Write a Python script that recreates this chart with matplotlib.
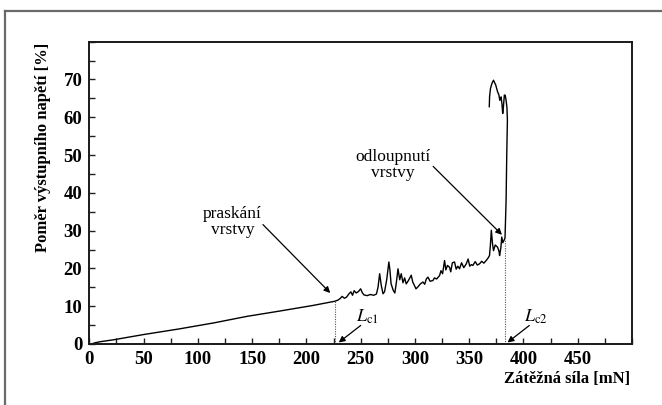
import matplotlib
matplotlib.use("Agg")
import matplotlib.pyplot as plt
from matplotlib.lines import Line2D
from matplotlib.ticker import MultipleLocator

plt.rcParams["font.family"] = ["Liberation Serif", "DejaVu Serif"]
plt.rcParams["mathtext.fontset"] = "stix"

# Scratch-test record: load [mN] vs. output voltage ratio [%]
load_mN = [
    2, 5, 10, 22, 50, 83, 115, 145, 175, 206, 226,
    229, 231, 233, 235, 237, 239, 241, 242.5, 244, 246, 248, 250, 251.5, 253,
    256, 259, 262, 264.5, 266, 267.5, 269, 270.6, 272, 274, 276, 277, 278, 280,
    281.5, 283, 284.4, 286, 287.4, 289, 290.5, 292, 294, 296.6, 298, 301, 303,
    305, 307.4, 309, 310.5, 312, 314, 316.6, 318, 320, 322.7, 324, 325.5, 327.3,
    328.5, 330, 331.9, 333, 334.5, 336.5, 338, 339.5, 341.1, 343, 345, 347.3,
    349, 350.5, 352, 353.4, 355.5, 357.5, 359.5, 361.5, 363.5, 365.7, 367.5,
    368.7, 369.5, 370.4, 371.5, 372.4, 374, 376.2, 377.5, 378, 379.2, 380, 381,
    382, 383, 384, 384.6, 385.2, 384.8, 384, 383.2, 382.4, 381.6, 380.9, 380.2,
    379.4, 378.8, 378.2, 377.3, 376.2, 374.5, 372.4, 371, 369.6, 368.8, 368.5,
]
ratio_pct = [
    0.0, 0.3, 0.6, 1.1, 2.5, 4.0, 5.6, 7.3, 8.7, 10.2, 11.3,
    11.6, 12.0, 12.6, 12.1, 12.4, 13.2, 13.8, 12.9, 14.1, 13.5, 13.9, 14.6, 13.6, 13.0,
    12.8, 13.1, 12.9, 13.2, 15.0, 18.6, 15.5, 13.3, 13.8, 17.0, 21.7, 19.5, 16.0, 14.2,
    13.5, 16.5, 19.9, 17.0, 18.6, 16.2, 17.5, 15.9, 16.8, 18.2, 16.4, 14.6, 15.2,
    15.9, 16.4, 15.8, 17.2, 17.7, 16.6, 16.8, 17.5, 17.2, 18.1, 19.4, 18.6, 22.1,
    19.6, 20.8, 20.3, 19.1, 21.5, 21.7, 19.8, 20.6, 19.9, 21.5, 20.2, 21.2,
    22.5, 20.6, 21.0, 20.8, 21.8, 20.9, 21.2, 21.9, 21.4, 22.1, 22.8,
    23.4, 26.0, 30.1, 26.5, 24.7, 26.2, 25.6, 24.5, 23.4, 25.5, 28.3, 26.8,
    27.4, 28.0, 38.0, 50.0, 59.2, 62.5, 64.5, 65.8, 65.9, 63.0, 61.0, 63.5,
    65.4, 64.8, 64.5, 66.0, 66.7, 68.5, 69.8, 69.0, 67.6, 65.5, 62.8,
]

# Critical loads and the ratio reached at each
lc1_load, lc1_ratio = 226, 11.3
lc2_load, lc2_ratio = 383, 27.6

x_ticks = [0, 50, 100, 150, 200, 250, 300, 350, 400, 450]
y_ticks = [0, 10, 20, 30, 40, 50, 60, 70]

fig = plt.figure(figsize=(6.62, 4.05), dpi=100)
fig.patch.set_facecolor("white")

# Outer frame (left and top edges)
frame_kw = dict(color="#6a6a6a", lw=1.6, transform=fig.transFigure)
fig.add_artist(Line2D([5 / 662, 5 / 662], [-0.05, 1 - 11 / 405], **frame_kw))
fig.add_artist(Line2D([5 / 662, 1.05], [1 - 11 / 405, 1 - 11 / 405], **frame_kw))

ax = fig.add_axes([89.3 / 662, 1 - 344 / 405, (632 - 89.3) / 662, (344 - 41.7) / 405])
ax.plot(load_mN, ratio_pct, color="black", lw=1.0)

ax.plot([lc1_load, lc1_load], [0, lc1_ratio], color="#555555", lw=0.8, ls=(0, (1, 1.2)))
ax.plot([lc2_load, lc2_load], [0, lc2_ratio], color="#555555", lw=0.8, ls=(0, (1, 1.2)))

ax.set_xlim(0, 500)
ax.set_ylim(0, 80)
ax.set_xticks(x_ticks)
ax.set_yticks(y_ticks)
ax.xaxis.set_minor_locator(MultipleLocator(25))
ax.yaxis.set_minor_locator(MultipleLocator(5))
ax.tick_params(which="both", direction="in", length=4, width=1, color="#222222")
ax.tick_params(which="major", labelsize=13.5, pad=5)
for lab in ax.get_xticklabels() + ax.get_yticklabels():
    lab.set_fontweight("bold")
for sp in ax.spines.values():
    sp.set_linewidth(1.4)
    sp.set_color("#1a1a1a")

fig.text(630 / 662, 1 - 379 / 405, "Zátěžná síla [mN]", ha="right", va="center",
         fontsize=12, fontweight="bold")
fig.text(43 / 662, 1 - 147 / 405, "Poměr výstupního napětí [%]", rotation=90,
         ha="center", va="center", fontsize=12, fontweight="bold")

arrow_kw = dict(arrowstyle="-|>", color="black", lw=0.9, mutation_scale=9,
                shrinkA=0, shrinkB=0)

ax.text(132, 32.2, "praskání\nvrstvy", ha="center", va="center",
        fontsize=12.5, linespacing=1.0)
ax.annotate("", xy=(222, 13.5), xytext=(160, 31.6), arrowprops=arrow_kw)

ax.text(280, 47.4, "odloupnutí\nvrstvy", ha="center", va="center",
        fontsize=12.5, linespacing=1.0)
ax.annotate("", xy=(380.2, 28.9), xytext=(316.8, 47.0), arrowprops=arrow_kw)

ax.text(256, 7.1, r"$L_{\mathrm{c1}}$", ha="center", va="center", fontsize=13)
ax.annotate("", xy=(229.8, 0.4), xytext=(250, 4.9), arrowprops=arrow_kw)
ax.text(411, 7.1, r"$L_{\mathrm{c2}}$", ha="center", va="center", fontsize=13)
ax.annotate("", xy=(385.3, 0.4), xytext=(405.4, 4.9), arrowprops=arrow_kw)

fig.savefig("out.png", dpi=100, facecolor="white")
